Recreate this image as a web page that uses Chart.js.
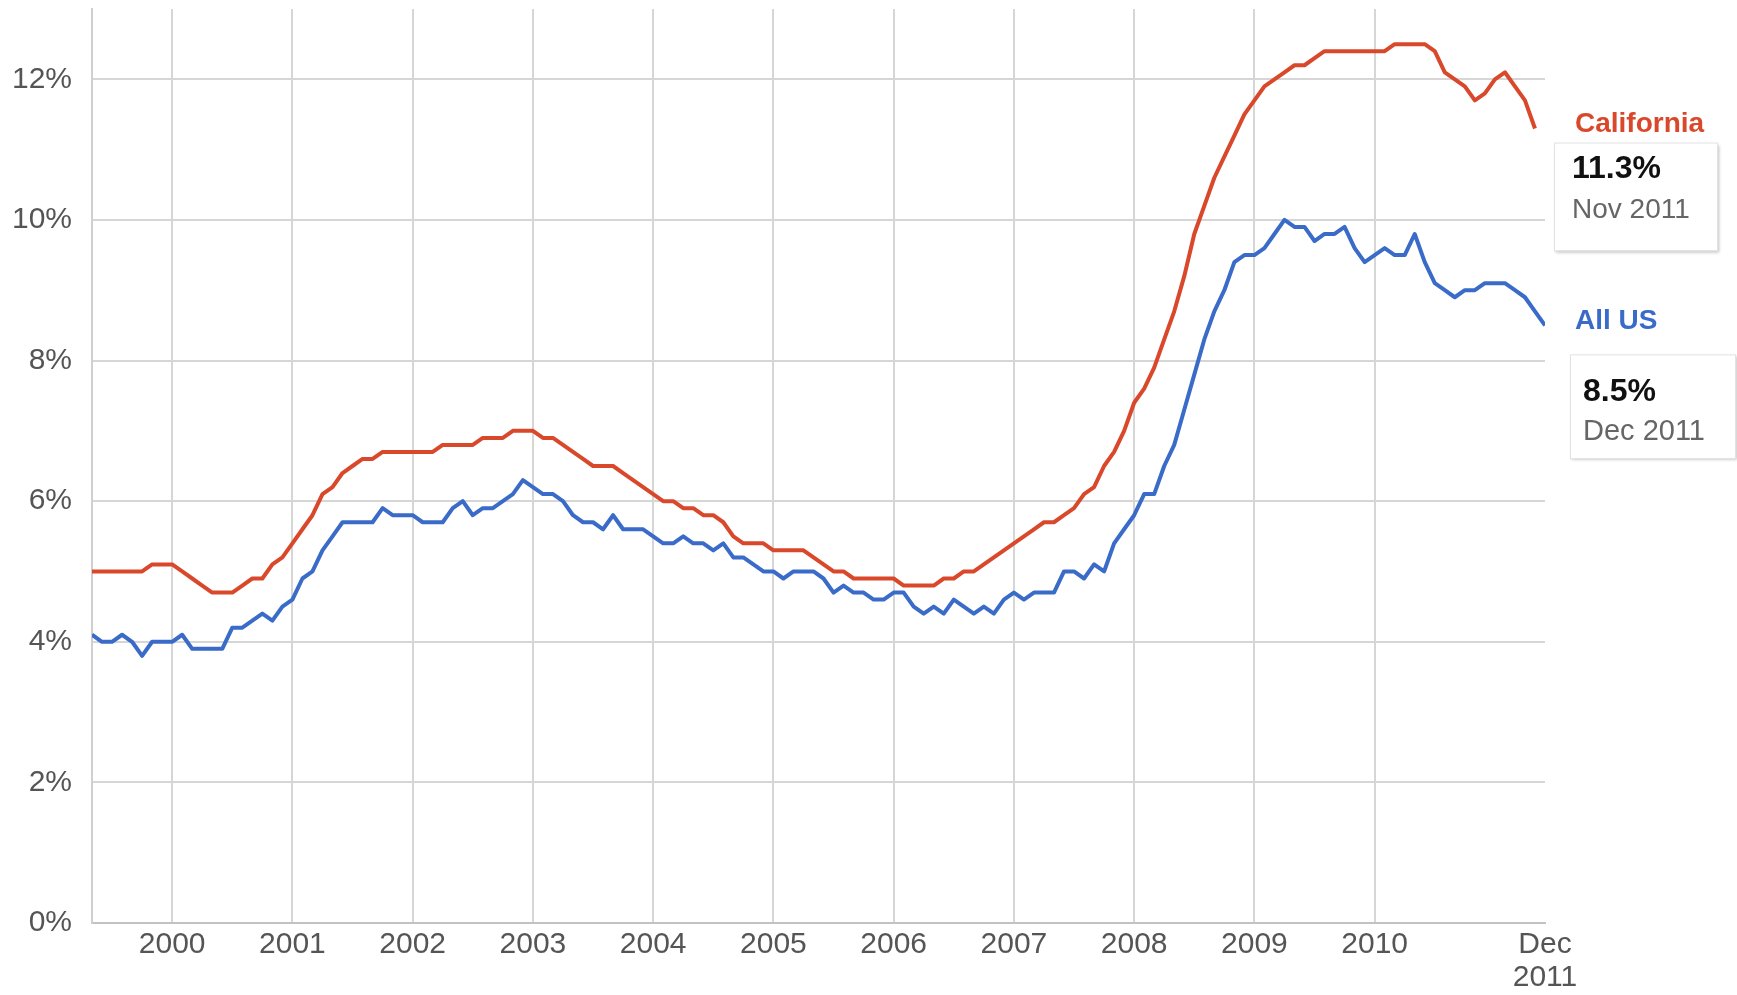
<!DOCTYPE html>
<html>
<head>
<meta charset="utf-8">
<title>Unemployment rate - California vs All US</title>
<script src="https://cdn.jsdelivr.net/npm/chart.js@4.4.1/dist/chart.umd.min.js"></script>
<style>
  html, body { margin: 0; padding: 0; background: #fff; }
  #wrap { width: 1737px; height: 995px; }
</style>
</head>
<body>
<div id="wrap"><canvas id="myChart" width="1737" height="995"></canvas></div>
<script>
// monthly rates, first point = Nov 1999
const firstYear = 1999;
const firstMonth = 11;

const california = [
  5.0, 5.0,
  5.0, 5.0, 5.0, 5.0, 5.1, 5.1, 5.1, 5.0, 4.9, 4.8, 4.7, 4.7,
  4.7, 4.8, 4.9, 4.9, 5.1, 5.2, 5.4, 5.6, 5.8, 6.1, 6.2, 6.4,
  6.5, 6.6, 6.6, 6.7, 6.7, 6.7, 6.7, 6.7, 6.7, 6.8, 6.8, 6.8,
  6.8, 6.9, 6.9, 6.9, 7.0, 7.0, 7.0, 6.9, 6.9, 6.8, 6.7, 6.6,
  6.5, 6.5, 6.5, 6.4, 6.3, 6.2, 6.1, 6.0, 6.0, 5.9, 5.9, 5.8,
  5.8, 5.7, 5.5, 5.4, 5.4, 5.4, 5.3, 5.3, 5.3, 5.3, 5.2, 5.1,
  5.0, 5.0, 4.9, 4.9, 4.9, 4.9, 4.9, 4.8, 4.8, 4.8, 4.8, 4.9,
  4.9, 5.0, 5.0, 5.1, 5.2, 5.3, 5.4, 5.5, 5.6, 5.7, 5.7, 5.8,
  5.9, 6.1, 6.2, 6.5, 6.7, 7.0, 7.4, 7.6, 7.9, 8.3, 8.7, 9.2,
  9.8, 10.2, 10.6, 10.9, 11.2, 11.5, 11.7, 11.9, 12.0, 12.1, 12.2, 12.2,
  12.3, 12.4, 12.4, 12.4, 12.4, 12.4, 12.4, 12.4, 12.5, 12.5, 12.5, 12.5,
  12.4, 12.1, 12.0, 11.9, 11.7, 11.8, 12.0, 12.1, 11.9, 11.7, 11.3
];

const allUS = [
  4.1, 4.0,
  4.0, 4.1, 4.0, 3.8, 4.0, 4.0, 4.0, 4.1, 3.9, 3.9, 3.9, 3.9,
  4.2, 4.2, 4.3, 4.4, 4.3, 4.5, 4.6, 4.9, 5.0, 5.3, 5.5, 5.7,
  5.7, 5.7, 5.7, 5.9, 5.8, 5.8, 5.8, 5.7, 5.7, 5.7, 5.9, 6.0,
  5.8, 5.9, 5.9, 6.0, 6.1, 6.3, 6.2, 6.1, 6.1, 6.0, 5.8, 5.7,
  5.7, 5.6, 5.8, 5.6, 5.6, 5.6, 5.5, 5.4, 5.4, 5.5, 5.4, 5.4,
  5.3, 5.4, 5.2, 5.2, 5.1, 5.0, 5.0, 4.9, 5.0, 5.0, 5.0, 4.9,
  4.7, 4.8, 4.7, 4.7, 4.6, 4.6, 4.7, 4.7, 4.5, 4.4, 4.5, 4.4,
  4.6, 4.5, 4.4, 4.5, 4.4, 4.6, 4.7, 4.6, 4.7, 4.7, 4.7, 5.0,
  5.0, 4.9, 5.1, 5.0, 5.4, 5.6, 5.8, 6.1, 6.1, 6.5, 6.8, 7.3,
  7.8, 8.3, 8.7, 9.0, 9.4, 9.5, 9.5, 9.6, 9.8, 10.0, 9.9, 9.9,
  9.7, 9.8, 9.8, 9.9, 9.6, 9.4, 9.5, 9.6, 9.5, 9.5, 9.8, 9.4,
  9.1, 9.0, 8.9, 9.0, 9.0, 9.1, 9.1, 9.1, 9.0, 8.9, 8.7, 8.5
];

const seriesNames = ['California', 'All US'];
const lastDates = ['Nov 2011', 'Dec 2011'];
const yearLabels = ['2000', '2001', '2002', '2003', '2004', '2005', '2006', '2007', '2008', '2009', '2010'];
const endLabel = ['Dec', '2011'];
const yTicks = [0, 2, 4, 6, 8, 10, 12];

const red = '#d9482b';
const blue = '#3a6bc9';

// year ticks sit in the middle of the year (July)
var xTicks = yearLabels.map(y => (parseInt(y) - firstYear) * 12 + 7 - firstMonth);
var lastIndex = allUS.length - 1;
xTicks.push(lastIndex);
var xTickLabels = yearLabels.concat([endLabel]);

function toPoints(arr) {
  return arr.map((v, i) => ({ x: i, y: v }));
}

// boxes right of the plot, offsets measured from the series label
const boxes = [
  { left: 9, right: 172, top: 18, bottom: 126, textX: 27, valueY: 45, dateY: 86, dateSize: 28 },
  { left: 25, right: 190, top: 33, bottom: 137, textX: 38, valueY: 71, dateY: 111, dateSize: 29 }
];

const endLabels = {
  id: 'endLabels',
  afterDraw(chart) {
    var ctx = chart.ctx;
    var yScale = chart.scales.y;
    var right = chart.chartArea.right;
    chart.data.datasets.forEach((ds, k) => {
      var last = ds.data[ds.data.length - 1];
      var ly = yScale.getPixelForValue(last.y) - 4;
      var b = boxes[k];

      ctx.save();
      ctx.shadowColor = 'rgba(0,0,0,0.25)';
      ctx.shadowBlur = 3;
      ctx.shadowOffsetX = 2;
      ctx.shadowOffsetY = 2;
      ctx.fillStyle = '#fff';
      ctx.fillRect(right + b.left, ly + b.top, b.right - b.left, b.bottom - b.top);
      ctx.restore();
      ctx.strokeStyle = '#e2e2e2';
      ctx.lineWidth = 1;
      ctx.strokeRect(right + b.left + 0.5, ly + b.top + 0.5, b.right - b.left, b.bottom - b.top);

      ctx.textAlign = 'left';
      ctx.textBaseline = 'middle';
      ctx.fillStyle = ds.borderColor;
      ctx.font = 'bold 28px Arial, "Liberation Sans", sans-serif';
      ctx.fillText(ds.label, right + 30, ly);

      ctx.fillStyle = '#111';
      ctx.font = 'bold 32px Arial, "Liberation Sans", sans-serif';
      ctx.fillText(last.y.toFixed(1) + '%', right + b.textX, ly + b.valueY);

      ctx.fillStyle = '#666';
      ctx.font = b.dateSize + 'px Arial, "Liberation Sans", sans-serif';
      ctx.fillText(lastDates[k], right + b.textX, ly + b.dateY);
    });
  }
};

const ctx = document.getElementById('myChart').getContext('2d');
const myChart = new Chart(ctx, {
  type: 'line',
  data: {
    datasets: [{
      label: seriesNames[0],
      data: toPoints(california),
      borderColor: red,
      borderWidth: 4,
      pointRadius: 0,
      tension: 0,
      borderJoinStyle: 'round'
    }, {
      label: seriesNames[1],
      data: toPoints(allUS),
      borderColor: blue,
      borderWidth: 4,
      pointRadius: 0,
      tension: 0,
      borderJoinStyle: 'round'
    }]
  },
  options: {
    responsive: false,
    animation: false,
    layout: { padding: { top: 9, right: 192, left: 0, bottom: 0 } },
    plugins: {
      legend: { display: false },
      tooltip: { enabled: false }
    },
    scales: {
      x: {
        type: 'linear',
        min: 0,
        max: lastIndex,
        afterBuildTicks: s => { s.ticks = xTicks.map(v => ({ value: v })); },
        afterFit: s => { s.height = 72; s.paddingLeft = 0; s.paddingRight = 0; },
        grid: {
          drawTicks: false,
          lineWidth: 2,
          color: c => (c.tick && c.tick.value === lastIndex) ? 'rgba(0,0,0,0)' : '#d6d6d6'
        },
        border: { color: '#c2c2c2', width: 2 },
        ticks: {
          autoSkip: false,
          maxRotation: 0,
          padding: 5,
          color: '#555',
          font: { family: 'Arial, "Liberation Sans", sans-serif', size: 30, lineHeight: 1.1 },
          callback: (v, i) => xTickLabels[i]
        }
      },
      y: {
        min: 0,
        max: 13,
        afterBuildTicks: s => { s.ticks = yTicks.map(v => ({ value: v })); },
        afterFit: s => { s.width = 92; s.paddingTop = 0; s.paddingBottom = 0; },
        grid: { drawTicks: false, lineWidth: 2, color: '#d6d6d6' },
        border: { color: '#cfcfcf', width: 2 },
        ticks: {
          padding: 20,
          color: '#555',
          font: { family: 'Arial, "Liberation Sans", sans-serif', size: 30 },
          callback: v => v + '%'
        }
      }
    }
  },
  plugins: [endLabels]
});
</script>
</body>
</html>
